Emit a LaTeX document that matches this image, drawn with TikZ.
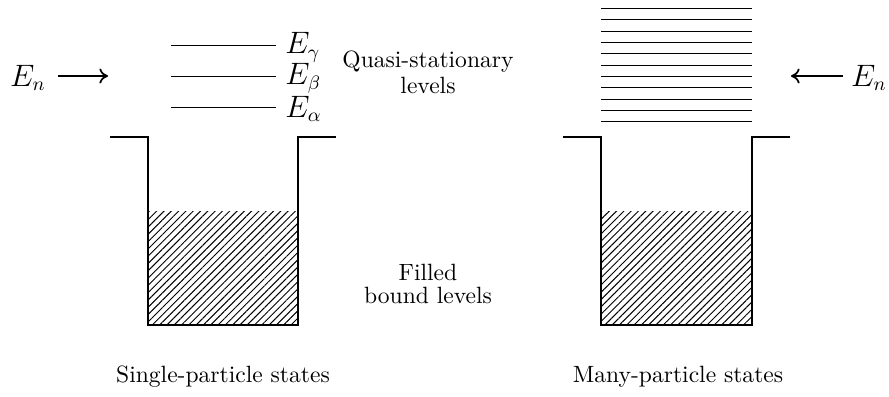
\documentclass[tikz,border=0pt,11pt]{standalone}
\usetikzlibrary{patterns.meta,arrows.meta}
\begin{document}
\begin{tikzpicture}[x=0.465pt,y=-0.465pt,
  well/.style={line width=1pt},
  lvl/.style={line width=0.4pt},
  inarrow/.style={line width=0.8pt,-{Computer Modern Rightarrow[length=4pt,width=7pt,line width=0.8pt]}},
  fill pat/.style={pattern={Lines[angle=45,distance=2.4pt,line width=0.45pt]}},
  txt/.style={inner sep=0pt,align=center},
  mth/.style={inner sep=0pt,font=\fontsize{13.5}{16}\selectfont}]
\useasboundingbox (0,0) rectangle (889,397);
% left well
\fill[fill pat] (148,212) rectangle (298,325);
\draw[well] (110,137) -- (148,137) -- (148,325) -- (298,325) -- (298,137) -- (336,137);
% right well
\fill[fill pat] (601,212) rectangle (752,325);
\draw[well] (563,137) -- (601,137) -- (601,325) -- (752,325) -- (752,137) -- (790,137);
% left levels
\foreach \y/\n/\l in {45/g/\gamma,76/b/\beta,107/a/\alpha}{
  \coordinate (l\n1) at (171,\y);
  \coordinate (l\n2) at (276,\y);
  \draw[lvl] (l\n1) -- (l\n2);
  \node[mth,anchor=west] (E\n) at (285,\y+2) {$E_{\l}$};
}
% right levels
\foreach \i in {0,...,10}{
  \coordinate (r\i1) at (601,8.3+11.34*\i);
  \coordinate (r\i2) at (752,8.3+11.34*\i);
  \draw[lvl] (r\i1) -- (r\i2);
}
% incoming arrows
\node[mth] (EnL) at (28,78) {$E_n$};
\coordinate (aL1) at (58,76);
\coordinate (aL2) at (108,76);
\draw[inarrow] (aL1) -- (aL2);
\node[mth] (EnR) at (869,78) {$E_n$};
\coordinate (aR1) at (843,76);
\coordinate (aR2) at (791,76);
\draw[inarrow] (aR1) -- (aR2);
% texts
\node[txt] (qs) at (428,62) {Quasi-stationary};
\node[txt] (qsl) at (428,85) {levels};
\node[txt] (fb) at (428,272) {Filled};
\node[txt] (fbl) at (428,295) {bound levels};
\node[txt] (sp) at (223,377) {Single-particle states};
\node[txt] (mp) at (678,377) {Many-particle states};
\end{tikzpicture}
\end{document}
